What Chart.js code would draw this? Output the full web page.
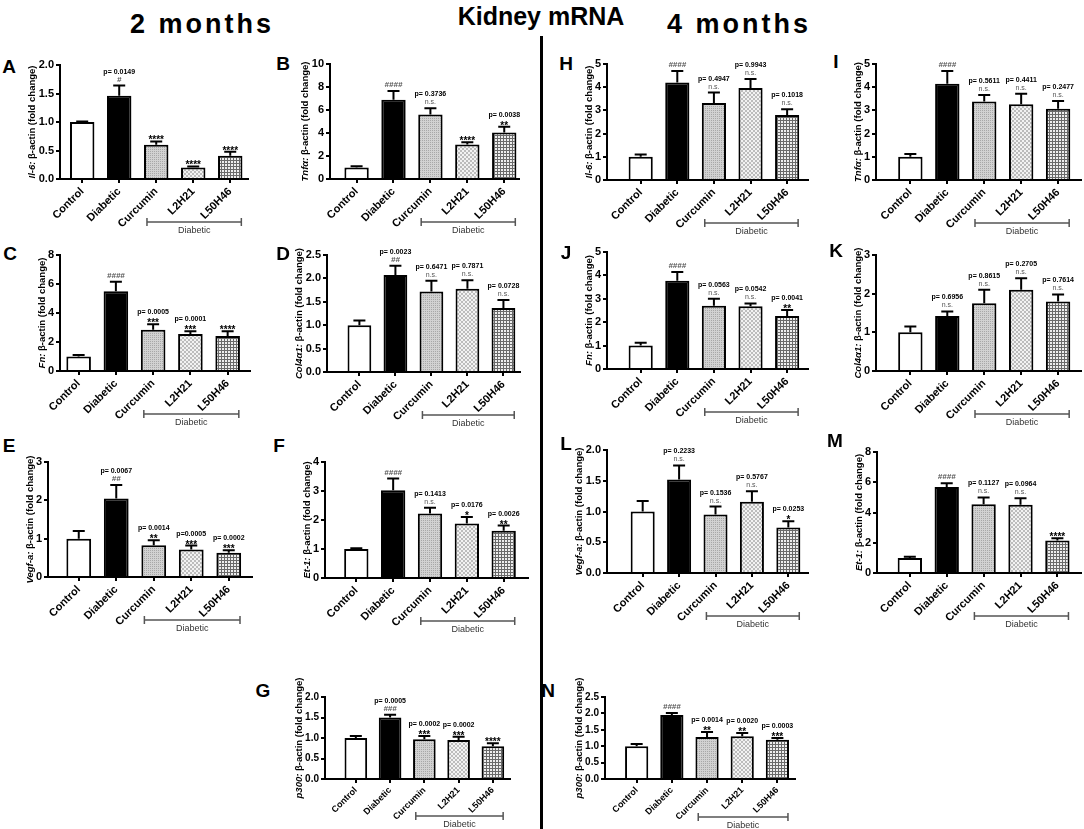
<!DOCTYPE html>
<html>
<head>
<meta charset="utf-8">
<script src="https://cdn.jsdelivr.net/npm/chart.js@4.4.1/dist/chart.umd.min.js"></script>
<style>
  body { margin: 0; background: #fff; }
  #fig { position: relative; width: 1084px; height: 829px; overflow: hidden; font-family: "Liberation Sans", Arial, sans-serif; }
  .hdr { position: absolute; font-weight: bold; font-size: 26px; line-height: 26px; white-space: nowrap; transform: translateX(-50%); }
  .mon { font-size: 27px; letter-spacing: 3px; }
  .let { position: absolute; font-weight: bold; font-size: 19px; line-height: 19px; transform: translate(-50%, -50%); }
  canvas { position: absolute; }
  #divider { position: absolute; left: 540px; top: 36px; width: 3px; height: 793px; background: #000; }
</style>
</head>
<body>
<div id="fig">
  <div class="hdr mon" style="left:202px;top:11px">2 months</div>
  <div class="hdr" style="left:541px;top:3px;font-size:25px">Kidney mRNA</div>
  <div class="hdr mon" style="left:739px;top:11px">4 months</div>
  <div id="divider"></div>
</div>
<script>
const groups = ['Control', 'Diabetic', 'Curcumin', 'L2H21', 'L50H46'];

// 2 months
const il6_2m = [1.00, 1.46, 0.60, 0.20, 0.41];
const il6_2m_sem = [0.01, 0.18, 0.06, 0.02, 0.07];
const il6_2m_p = ['', 'p= 0.0149', '', '', ''];
const il6_2m_sig = ['', '#', '****', '****', '****'];

const tnf_2m = [1.00, 6.90, 5.60, 3.00, 4.05];
const tnf_2m_sem = [0.10, 0.75, 0.55, 0.20, 0.50];
const tnf_2m_p = ['', '', 'p= 0.3736', '', 'p= 0.0038'];
const tnf_2m_sig = ['', '####', 'n.s.', '****', '**'];

const fn_2m = [1.00, 5.50, 2.85, 2.55, 2.42];
const fn_2m_sem = [0.10, 0.65, 0.38, 0.20, 0.33];
const fn_2m_p = ['', '', 'p= 0.0005', 'p= 0.0001', ''];
const fn_2m_sig = ['', '####', '***', '***', '****'];

const col_2m = [1.00, 2.07, 1.72, 1.78, 1.37];
const col_2m_sem = [0.10, 0.20, 0.23, 0.18, 0.17];
const col_2m_p = ['', 'p= 0.0023', 'p= 0.6471', 'p= 0.7871', 'p= 0.0728'];
const col_2m_sig = ['', '##', 'n.s.', 'n.s.', 'n.s.'];

const vegf_2m = [1.00, 2.05, 0.83, 0.72, 0.63];
const vegf_2m_sem = [0.20, 0.35, 0.13, 0.10, 0.07];
const vegf_2m_p = ['', 'p= 0.0067', 'p= 0.0014', 'p=0.0005', 'p= 0.0002'];
const vegf_2m_sig = ['', '##', '**', '***', '***'];

const et1_2m = [1.00, 3.03, 2.22, 1.88, 1.63];
const et1_2m_sem = [0.03, 0.40, 0.20, 0.22, 0.18];
const et1_2m_p = ['', '', 'p= 0.1413', 'p= 0.0176', 'p= 0.0026'];
const et1_2m_sig = ['', '####', 'n.s.', '*', '**'];

const p300_2m = [1.00, 1.50, 0.97, 0.95, 0.80];
const p300_2m_sem = [0.05, 0.07, 0.08, 0.08, 0.07];
const p300_2m_p = ['', 'p= 0.0005', 'p= 0.0002', 'p= 0.0002', ''];
const p300_2m_sig = ['', '###', '***', '***', '****'];

// 4 months
const il6_4m = [1.00, 4.20, 3.32, 3.97, 2.80];
const il6_4m_sem = [0.10, 0.50, 0.45, 0.38, 0.25];
const il6_4m_p = ['', '', 'p= 0.4947', 'p= 0.9943', 'p= 0.1018'];
const il6_4m_sig = ['', '####', 'n.s.', 'n.s.', 'n.s.'];

const tnf_4m = [1.00, 4.15, 3.38, 3.27, 3.07];
const tnf_4m_sem = [0.12, 0.55, 0.28, 0.45, 0.33];
const tnf_4m_p = ['', '', 'p= 0.5611', 'p= 0.4411', 'p= 0.2477'];
const tnf_4m_sig = ['', '####', 'n.s.', 'n.s.', 'n.s.'];

const fn_4m = [1.00, 3.77, 2.70, 2.68, 2.27];
const fn_4m_sem = [0.12, 0.38, 0.30, 0.12, 0.25];
const fn_4m_p = ['', '', 'p= 0.0563', 'p= 0.0542', 'p= 0.0041'];
const fn_4m_sig = ['', '####', 'n.s.', 'n.s.', '**'];

const col_4m = [1.00, 1.42, 1.75, 2.10, 1.80];
const col_4m_sem = [0.15, 0.12, 0.35, 0.30, 0.18];
const col_4m_p = ['', 'p= 0.6956', 'p= 0.8615', 'p= 0.2705', 'p= 0.7614'];
const col_4m_sig = ['', 'n.s.', 'n.s.', 'n.s.', 'n.s.'];

const vegf_4m = [1.00, 1.52, 0.95, 1.16, 0.74];
const vegf_4m_sem = [0.17, 0.23, 0.13, 0.17, 0.10];
const vegf_4m_p = ['', 'p= 0.2233', 'p= 0.1536', 'p= 0.5767', 'p= 0.0253'];
const vegf_4m_sig = ['', 'n.s.', 'n.s.', 'n.s.', '*'];

const et1_4m = [1.00, 5.68, 4.55, 4.52, 2.15];
const et1_4m_sem = [0.08, 0.25, 0.45, 0.43, 0.15];
const et1_4m_p = ['', '', 'p= 0.1127', 'p= 0.0964', ''];
const et1_4m_sig = ['', '####', 'n.s.', 'n.s.', '****'];

const p300_4m = [1.00, 1.95, 1.28, 1.30, 1.20];
const p300_4m_sem = [0.07, 0.06, 0.15, 0.10, 0.05];
const p300_4m_p = ['', '', 'p= 0.0014', 'p= 0.0020', 'p= 0.0003'];
const p300_4m_sig = ['', '####', '**', '**', '***'];

const FONT = '"Liberation Sans", Arial, sans-serif';
const yW = 46, padTop = 22, xH = 62;

// layout of each panel: y-axis x position, plot top/bottom, x-axis end, x range in category units
const panels = [
  { letter: 'A', gene: 'Il-6:', v: il6_2m, e: il6_2m_sem, p: il6_2m_p, s: il6_2m_sig, yMax: 2, step: 0.5, dec: 1, ax: 60, top: 65, bottom: 179, end: 248, xMin: -0.6, xMax: 4.48, lx: 9, ly: 66 },
  { letter: 'B', gene: 'Tnf\u03b1:', v: tnf_2m, e: tnf_2m_sem, p: tnf_2m_p, s: tnf_2m_sig, yMax: 10, step: 2, dec: 0, ax: 330, top: 64, bottom: 179, end: 519, xMin: -0.72, xMax: 4.4, lx: 283, ly: 63 },
  { letter: 'H', gene: 'Il-6:', v: il6_4m, e: il6_4m_sem, p: il6_4m_p, s: il6_4m_sig, yMax: 5, step: 1, dec: 0, ax: 607, top: 64, bottom: 180, end: 808, xMin: -0.92, xMax: 4.57, lx: 566, ly: 63 },
  { letter: 'I', gene: 'Tnf\u03b1:', v: tnf_4m, e: tnf_4m_sem, p: tnf_4m_p, s: tnf_4m_sig, yMax: 5, step: 1, dec: 0, ax: 876, top: 64, bottom: 180, end: 1081, xMin: -0.93, xMax: 4.62, lx: 836, ly: 61 },
  { letter: 'C', gene: 'Fn:', v: fn_2m, e: fn_2m_sem, p: fn_2m_p, s: fn_2m_sig, yMax: 8, step: 2, dec: 0, ax: 60, top: 255, bottom: 371, end: 250, xMin: -0.5, xMax: 4.6, lx: 10, ly: 253 },
  { letter: 'D', gene: 'Col4\u03b11:', v: col_2m, e: col_2m_sem, p: col_2m_p, s: col_2m_sig, yMax: 2.5, step: 0.5, dec: 1, ax: 327, top: 255, bottom: 372, end: 520, xMin: -0.9, xMax: 4.46, lx: 283, ly: 253 },
  { letter: 'J', gene: 'Fn:', v: fn_4m, e: fn_4m_sem, p: fn_4m_p, s: fn_4m_sig, yMax: 5, step: 1, dec: 0, ax: 607, top: 252, bottom: 369, end: 808, xMin: -0.92, xMax: 4.57, lx: 566, ly: 252 },
  { letter: 'K', gene: 'Col4\u03b11:', v: col_4m, e: col_4m_sem, p: col_4m_p, s: col_4m_sig, yMax: 3, step: 1, dec: 0, ax: 876, top: 255, bottom: 371, end: 1081, xMin: -0.93, xMax: 4.62, lx: 836, ly: 250 },
  { letter: 'E', gene: 'Vegf-a:', v: vegf_2m, e: vegf_2m_sem, p: vegf_2m_p, s: vegf_2m_sig, yMax: 3, step: 1, dec: 0, ax: 48, top: 462, bottom: 577, end: 252, xMin: -0.82, xMax: 4.62, lx: 9, ly: 445 },
  { letter: 'F', gene: 'Et-1:', v: et1_2m, e: et1_2m_sem, p: et1_2m_p, s: et1_2m_sig, yMax: 4, step: 1, dec: 0, ax: 325, top: 462, bottom: 578, end: 528, xMin: -0.85, xMax: 4.66, lx: 279, ly: 445 },
  { letter: 'L', gene: 'Vegf-a:', v: vegf_4m, e: vegf_4m_sem, p: vegf_4m_p, s: vegf_4m_sig, yMax: 2, step: 0.5, dec: 1, ax: 607, top: 450, bottom: 573, end: 808, xMin: -0.98, xMax: 4.54, lx: 566, ly: 443 },
  { letter: 'M', gene: 'Et-1:', v: et1_4m, e: et1_4m_sem, p: et1_4m_p, s: et1_4m_sig, yMax: 8, step: 2, dec: 0, ax: 877, top: 452, bottom: 573, end: 1081, xMin: -0.89, xMax: 4.64, lx: 835, ly: 440 },
  { letter: 'G', gene: 'p300:', v: p300_2m, e: p300_2m_sem, p: p300_2m_p, s: p300_2m_sig, yMax: 2, step: 0.5, dec: 1, ax: 325, top: 697, bottom: 779, end: 510, xMin: -0.9, xMax: 4.5, lx: 263, ly: 690, fs: 9, bOff: 37 },
  { letter: 'N', gene: 'p300:', v: p300_4m, e: p300_4m_sem, p: p300_4m_p, s: p300_4m_sig, yMax: 2.5, step: 0.5, dec: 1, ax: 605, top: 697, bottom: 779, end: 795, xMin: -0.9, xMax: 4.5, lx: 548, ly: 690, fs: 9, bOff: 38 }
];

function makePattern(kind) {
  const c = document.createElement('canvas');
  const g = c.getContext('2d');
  if (kind === 'dots') {
    c.width = c.height = 2;
    g.fillStyle = '#d2d2d2'; g.fillRect(0, 0, 2, 2);
    g.fillStyle = '#a8a8a8'; g.fillRect(0, 0, 1, 1);
  } else if (kind === 'check') {
    c.width = c.height = 4;
    g.fillStyle = '#f2f2f2'; g.fillRect(0, 0, 4, 4);
    g.fillStyle = '#bcbcbc'; g.fillRect(0, 0, 2, 2); g.fillRect(2, 2, 2, 2);
  } else {
    c.width = c.height = 3;
    g.fillStyle = '#eeeeee'; g.fillRect(0, 0, 3, 3);
    g.fillStyle = '#6a6a6a'; g.fillRect(0, 0, 3, 1); g.fillRect(0, 0, 1, 3);
  }
  return g.createPattern(c, 'repeat');
}

const fills = ['#ffffff', '#000000', makePattern('dots'), makePattern('check'), makePattern('grid')];

function deco(cfg) {
  return {
    id: 'deco' + cfg.letter,
    afterDatasetsDraw(chart) {
      const ctx = chart.ctx, y = chart.scales.y;
      const meta = chart.getDatasetMeta(0);
      ctx.save();
      meta.data.forEach((bar, i) => {
        const cx = bar.x;
        const base = y.getPixelForValue(cfg.v[i]);
        const top = y.getPixelForValue(cfg.v[i] + cfg.e[i]);
        ctx.strokeStyle = '#000';
        ctx.lineWidth = 2;
        ctx.beginPath();
        ctx.moveTo(cx, base); ctx.lineTo(cx, top);
        ctx.moveTo(cx - 6, top); ctx.lineTo(cx + 6, top);
        ctx.stroke();

        ctx.textAlign = 'center';
        ctx.textBaseline = 'alphabetic';
        const sig = cfg.s[i];
        let pY = top - 10;
        if (sig === 'n.s.') {
          ctx.font = '7px ' + FONT; ctx.fillStyle = '#555';
          ctx.fillText(sig, cx, top - 4);
          pY = top - 12;
        } else if (sig.startsWith('#')) {
          ctx.font = 'italic bold 8px ' + FONT; ctx.fillStyle = '#555';
          ctx.fillText(sig, cx, top - 4);
          pY = top - 12;
        } else if (sig) {
          ctx.font = 'bold 10px ' + FONT; ctx.fillStyle = '#000';
          ctx.fillText(sig, cx, top + 2);
        }
        if (cfg.p[i]) {
          ctx.font = 'bold 7px ' + FONT; ctx.fillStyle = '#000';
          ctx.fillText(cfg.p[i], cx, pY);
        }
      });
      ctx.restore();
    },
    afterDraw(chart) {
      const ctx = chart.ctx, x = chart.scales.x, y = chart.scales.y, area = chart.chartArea;
      ctx.save();
      // Diabetic bracket under the three treated groups
      const catW = x.getPixelForValue(1) - x.getPixelForValue(0);
      const l = x.getPixelForValue(2) - 0.25 * catW;
      const r = x.getPixelForValue(4) + 0.3 * catW;
      const by = area.bottom + (cfg.bOff || 43);
      ctx.strokeStyle = '#555';
      ctx.lineWidth = 1.5;
      ctx.beginPath();
      ctx.moveTo(l, by); ctx.lineTo(r, by);
      ctx.moveTo(l, by - 4); ctx.lineTo(l, by + 4);
      ctx.moveTo(r, by - 4); ctx.lineTo(r, by + 4);
      ctx.stroke();
      ctx.font = '9px ' + FONT;
      ctx.fillStyle = '#333';
      ctx.textAlign = 'center';
      ctx.textBaseline = 'alphabetic';
      ctx.fillText('Diabetic', (l + r) / 2, by + 11);

      // y title left of the widest tick label, gene name in italics
      ctx.font = 'bold ' + (cfg.fs ? 10 : 11) + 'px ' + FONT;
      let widest = 0;
      y.ticks.forEach(t => { widest = Math.max(widest, ctx.measureText(t.label).width); });
      const tx = area.left - 4 - 2 - widest - 6;
      const ty = (area.top + area.bottom) / 2;
      const rest = ' \u03b2-actin (fold change)';
      const fGene = 'italic bold 9.5px ' + FONT, fRest = 'bold 9.5px ' + FONT;
      ctx.font = fGene; const w1 = ctx.measureText(cfg.gene).width;
      ctx.font = fRest; const w2 = ctx.measureText(rest).width;
      ctx.translate(tx, ty);
      ctx.rotate(-Math.PI / 2);
      ctx.textAlign = 'left';
      ctx.textBaseline = 'middle';
      ctx.fillStyle = '#000';
      ctx.font = fGene; ctx.fillText(cfg.gene, -(w1 + w2) / 2, 0);
      ctx.font = fRest; ctx.fillText(rest, -(w1 + w2) / 2 + w1, 0);
      ctx.restore();
    }
  };
}

const fig = document.getElementById('fig');

panels.forEach(cfg => {
  const lab = document.createElement('div');
  lab.className = 'let';
  lab.style.left = cfg.lx + 'px';
  lab.style.top = cfg.ly + 'px';
  lab.textContent = cfg.letter;
  fig.appendChild(lab);

  const cv = document.createElement('canvas');
  const w = (cfg.end - cfg.ax) + yW + 6;
  const h = padTop + (cfg.bottom - cfg.top) + xH;
  cv.width = w; cv.height = h;
  cv.style.left = (cfg.ax - yW) + 'px';
  cv.style.top = (cfg.top - padTop) + 'px';
  cv.style.width = w + 'px'; cv.style.height = h + 'px';
  fig.appendChild(cv);

  new Chart(cv.getContext('2d'), {
    type: 'bar',
    data: {
      datasets: [{
        data: cfg.v.map((val, i) => ({ x: i, y: val })),
        backgroundColor: fills,
        borderColor: '#000',
        borderWidth: 2,
        barPercentage: 0.66,
        categoryPercentage: 1
      }]
    },
    options: {
      responsive: false,
      devicePixelRatio: 1,
      animation: false,
      layout: { padding: { top: padTop, right: 6, left: 0, bottom: 0 } },
      plugins: { legend: { display: false }, tooltip: { enabled: false } },
      scales: {
        x: {
          type: 'linear',
          offset: false,
          bounds: 'data',
          min: cfg.xMin,
          max: cfg.xMax,
          afterBuildTicks: s => { s.ticks = groups.map((g, i) => ({ value: i })); },
          afterFit: s => { s.height = xH; },
          ticks: {
            autoSkip: false,
            minRotation: 45,
            maxRotation: 45,
            padding: 2,
            color: '#000',
            font: { family: FONT, size: cfg.fs || 11, weight: 'bold' },
            callback: v => groups[v]
          },
          grid: { display: true, offset: false, drawOnChartArea: false, drawTicks: true, tickLength: 4, color: '#000', lineWidth: 2 },
          border: { display: true, color: '#000', width: 2 }
        },
        y: {
          min: 0,
          max: cfg.yMax,
          afterFit: s => { s.width = yW; },
          ticks: {
            stepSize: cfg.step,
            padding: 2,
            color: '#000',
            font: { family: FONT, size: cfg.fs ? 10 : 11, weight: 'bold' },
            callback: v => v.toFixed(cfg.dec)
          },
          grid: { display: true, drawOnChartArea: false, drawTicks: true, tickLength: 4, color: '#000', lineWidth: 2 },
          border: { display: true, color: '#000', width: 2 }
        }
      }
    },
    plugins: [deco(cfg)]
  });
});
</script>
</body>
</html>
